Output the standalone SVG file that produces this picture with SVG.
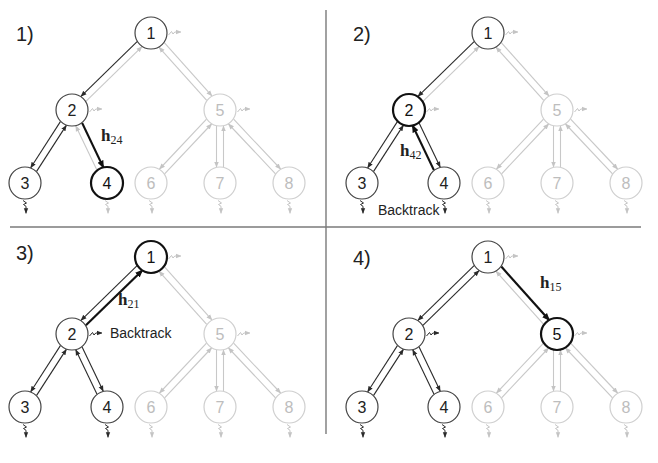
<svg xmlns="http://www.w3.org/2000/svg" width="658" height="463" viewBox="0 0 658 463">
<defs>
<marker id="md" viewBox="0 0 10 10" refX="9" refY="5" markerWidth="6" markerHeight="6" markerUnits="userSpaceOnUse" orient="auto"><path d="M0,1 L10,5 L0,9 z" fill="#2a2a2a"/></marker>
<marker id="mg" viewBox="0 0 10 10" refX="9" refY="5" markerWidth="6" markerHeight="6" markerUnits="userSpaceOnUse" orient="auto"><path d="M0,1 L10,5 L0,9 z" fill="#c4c4c4"/></marker>
<marker id="mb" viewBox="0 0 10 10" refX="8" refY="5" markerWidth="8" markerHeight="8" markerUnits="userSpaceOnUse" orient="auto"><path d="M0,1 L10,5 L0,9 z" fill="#111"/></marker>
<marker id="sd" viewBox="0 0 10 10" refX="9" refY="5" markerWidth="5.5" markerHeight="5.5" markerUnits="userSpaceOnUse" orient="auto"><path d="M0,1 L10,5 L0,9 z" fill="#2a2a2a"/></marker>
<marker id="sg" viewBox="0 0 10 10" refX="9" refY="5" markerWidth="5.5" markerHeight="5.5" markerUnits="userSpaceOnUse" orient="auto"><path d="M0,1 L10,5 L0,9 z" fill="#c4c4c4"/></marker>
</defs>
<style>
.d{fill:none;stroke:#2a2a2a;stroke-width:1.1;marker-end:url(#md)}
.g{fill:none;stroke:#c8c8c8;stroke-width:1.1;marker-end:url(#mg)}
.b{fill:none;stroke:#111;stroke-width:2.2;marker-end:url(#mb)}
.sqd{fill:none;stroke:#2a2a2a;stroke-width:1;marker-end:url(#sd)}
.sqg{fill:none;stroke:#c4c4c4;stroke-width:1;marker-end:url(#sg)}
.nd circle{fill:#fff;stroke:#444;stroke-width:1.2}
.nd text{fill:#222}
.nb circle{fill:#fff;stroke:#111;stroke-width:2.2}
.nb text{fill:#111}
.ng circle{fill:#fff;stroke:#cfcfcf;stroke-width:1.2}
.ng text{fill:#bdbdbd}
text{font-family:"Liberation Sans",Arial,sans-serif}
.num{font-size:16px;text-anchor:middle}
.lbl{font-size:20px;fill:#222}
.bt{font-size:14px;fill:#222}
.h{font-family:"Liberation Serif","Times New Roman",serif;font-size:17px;font-weight:bold;fill:#222}
.sub{font-family:"Liberation Serif","Times New Roman",serif;font-size:12px;font-weight:normal}
.div{stroke:#7a7a7a;stroke-width:1.4}
</style>
<rect width="658" height="463" fill="#fff"/>
<g id="dividers">
<line class="div" x1="326" y1="10" x2="326" y2="434"/>
<line class="div" x1="10" y1="227" x2="641" y2="227"/>
</g>
<g id="labels">
<text class="lbl" x="16" y="41">1)</text>
<text class="lbl" x="353" y="41">2)</text>
<text class="lbl" x="16" y="260">3)</text>
<text class="lbl" x="353" y="265">4)</text>
</g>

<!-- Panel 1 -->
<g id="panel1">
<g id="p1-connectors">
<path class="d" d="M137.1,41.7 L81,96.3"/>
<path class="g" d="M85.9,101.3 L142,46.7"/>
<path class="g" d="M164.3,42.6 L211.9,95.8"/>
<path class="g" d="M206.7,100.4 L159.1,47.3"/>
<path class="d" d="M60.4,121.6 L30.7,167.7"/>
<path class="d" d="M36.6,171.4 L66.3,125.4"/>
<path class="b" d="M82.1,122.9 L103.2,167.1"/>
<path class="g" d="M96.9,170.1 L75.8,125.9"/>
<path class="g" d="M206.5,119.2 L159.5,169"/>
<path class="g" d="M164.6,173.8 L211.6,124"/>
<path class="g" d="M216.5,126 L216.5,167"/>
<path class="g" d="M223.5,167 L223.5,126"/>
<path class="g" d="M233.6,119.2 L280.6,169"/>
<path class="g" d="M275.5,173.8 L228.5,124"/>
<path class="sqg" d="M168.5,35 l3,-3.5 l1.5,2.5 l1.8,-2 h6"/>
<path class="sqg" d="M89.5,112 l3,-3.5 l1.5,2.5 l1.8,-2 h6"/>
<path class="sqg" d="M237.5,112 l3,-3.5 l1.5,2.5 l1.8,-2 h6"/>
<path class="sqd" d="M23,200.5 l3.5,2.5 l-3,1.5 l2.5,1.8 v7"/>
<path class="sqg" d="M105,200.5 l3.5,2.5 l-3,1.5 l2.5,1.8 v7"/>
<path class="sqg" d="M149,200.5 l3.5,2.5 l-3,1.5 l2.5,1.8 v7"/>
<path class="sqg" d="M218,200.5 l3.5,2.5 l-3,1.5 l2.5,1.8 v7"/>
<path class="sqg" d="M287,200.5 l3.5,2.5 l-3,1.5 l2.5,1.8 v7"/>
</g>
<g id="p1-n1" class="nd"><circle cx="151" cy="33" r="16"/><text class="num" x="151" y="38.8">1</text></g>
<g id="p1-n2" class="nd"><circle cx="72" cy="110" r="16"/><text class="num" x="72" y="115.8">2</text></g>
<g id="p1-n3" class="nd"><circle cx="25" cy="183" r="16"/><text class="num" x="25" y="188.8">3</text></g>
<g id="p1-n4" class="nb"><circle cx="107" cy="183" r="16"/><text class="num" x="107" y="188.8">4</text></g>
<g id="p1-n5" class="ng"><circle cx="220" cy="110" r="16"/><text class="num" x="220" y="115.8">5</text></g>
<g id="p1-n6" class="ng"><circle cx="151" cy="183" r="16"/><text class="num" x="151" y="188.8">6</text></g>
<g id="p1-n7" class="ng"><circle cx="220" cy="183" r="16"/><text class="num" x="220" y="188.8">7</text></g>
<g id="p1-n8" class="ng"><circle cx="289" cy="183" r="16"/><text class="num" x="289" y="188.8">8</text></g>
<text class="h" x="101" y="141">h<tspan class="sub" dy="3">24</tspan></text>
</g>

<!-- Panel 2 -->
<g id="panel2" transform="translate(337,0)">
<g id="p2-connectors">
<path class="d" d="M137.1,41.7 L81,96.3"/>
<path class="g" d="M85.9,101.3 L142,46.7"/>
<path class="g" d="M164.3,42.6 L211.9,95.8"/>
<path class="g" d="M206.7,100.4 L159.1,47.3"/>
<path class="d" d="M60.4,121.6 L30.7,167.7"/>
<path class="d" d="M36.6,171.4 L66.3,125.4"/>
<path class="d" d="M82.1,122.9 L103.2,167.1"/>
<path class="b" d="M96.9,170.1 L75.8,125.9"/>
<path class="g" d="M206.5,119.2 L159.5,169"/>
<path class="g" d="M164.6,173.8 L211.6,124"/>
<path class="g" d="M216.5,126 L216.5,167"/>
<path class="g" d="M223.5,167 L223.5,126"/>
<path class="g" d="M233.6,119.2 L280.6,169"/>
<path class="g" d="M275.5,173.8 L228.5,124"/>
<path class="sqg" d="M168.5,35 l3,-3.5 l1.5,2.5 l1.8,-2 h6"/>
<path class="sqg" d="M89.5,112 l3,-3.5 l1.5,2.5 l1.8,-2 h6"/>
<path class="sqg" d="M237.5,112 l3,-3.5 l1.5,2.5 l1.8,-2 h6"/>
<path class="sqd" d="M23,200.5 l3.5,2.5 l-3,1.5 l2.5,1.8 v7"/>
<path class="sqd" d="M105,200.5 l3.5,2.5 l-3,1.5 l2.5,1.8 v7"/>
<path class="sqg" d="M149,200.5 l3.5,2.5 l-3,1.5 l2.5,1.8 v7"/>
<path class="sqg" d="M218,200.5 l3.5,2.5 l-3,1.5 l2.5,1.8 v7"/>
<path class="sqg" d="M287,200.5 l3.5,2.5 l-3,1.5 l2.5,1.8 v7"/>
</g>
<g id="p2-n1" class="nd"><circle cx="151" cy="33" r="16"/><text class="num" x="151" y="38.8">1</text></g>
<g id="p2-n2" class="nb"><circle cx="72" cy="110" r="16"/><text class="num" x="72" y="115.8">2</text></g>
<g id="p2-n3" class="nd"><circle cx="25" cy="183" r="16"/><text class="num" x="25" y="188.8">3</text></g>
<g id="p2-n4" class="nd"><circle cx="107" cy="183" r="16"/><text class="num" x="107" y="188.8">4</text></g>
<g id="p2-n5" class="ng"><circle cx="220" cy="110" r="16"/><text class="num" x="220" y="115.8">5</text></g>
<g id="p2-n6" class="ng"><circle cx="151" cy="183" r="16"/><text class="num" x="151" y="188.8">6</text></g>
<g id="p2-n7" class="ng"><circle cx="220" cy="183" r="16"/><text class="num" x="220" y="188.8">7</text></g>
<g id="p2-n8" class="ng"><circle cx="289" cy="183" r="16"/><text class="num" x="289" y="188.8">8</text></g>
<text class="h" x="63" y="156">h<tspan class="sub" dy="3">42</tspan></text>
<text class="bt" x="41" y="215">Backtrack</text>
</g>

<!-- Panel 3 -->
<g id="panel3" transform="translate(0,224)">
<g id="p3-connectors">
<path class="d" d="M137.1,41.7 L81,96.3"/>
<path class="b" d="M85.9,101.3 L142,46.7"/>
<path class="g" d="M164.3,42.6 L211.9,95.8"/>
<path class="g" d="M206.7,100.4 L159.1,47.3"/>
<path class="d" d="M60.4,121.6 L30.7,167.7"/>
<path class="d" d="M36.6,171.4 L66.3,125.4"/>
<path class="d" d="M82.1,122.9 L103.2,167.1"/>
<path class="d" d="M96.9,170.1 L75.8,125.9"/>
<path class="g" d="M206.5,119.2 L159.5,169"/>
<path class="g" d="M164.6,173.8 L211.6,124"/>
<path class="g" d="M216.5,126 L216.5,167"/>
<path class="g" d="M223.5,167 L223.5,126"/>
<path class="g" d="M233.6,119.2 L280.6,169"/>
<path class="g" d="M275.5,173.8 L228.5,124"/>
<path class="sqg" d="M168.5,35 l3,-3.5 l1.5,2.5 l1.8,-2 h6"/>
<path class="sqd" d="M89.5,112 l3,-3.5 l1.5,2.5 l1.8,-2 h6"/>
<path class="sqg" d="M237.5,112 l3,-3.5 l1.5,2.5 l1.8,-2 h6"/>
<path class="sqd" d="M23,200.5 l3.5,2.5 l-3,1.5 l2.5,1.8 v7"/>
<path class="sqd" d="M105,200.5 l3.5,2.5 l-3,1.5 l2.5,1.8 v7"/>
<path class="sqg" d="M149,200.5 l3.5,2.5 l-3,1.5 l2.5,1.8 v7"/>
<path class="sqg" d="M218,200.5 l3.5,2.5 l-3,1.5 l2.5,1.8 v7"/>
<path class="sqg" d="M287,200.5 l3.5,2.5 l-3,1.5 l2.5,1.8 v7"/>
</g>
<g id="p3-n1" class="nb"><circle cx="151" cy="33" r="16"/><text class="num" x="151" y="38.8">1</text></g>
<g id="p3-n2" class="nd"><circle cx="72" cy="110" r="16"/><text class="num" x="72" y="115.8">2</text></g>
<g id="p3-n3" class="nd"><circle cx="25" cy="183" r="16"/><text class="num" x="25" y="188.8">3</text></g>
<g id="p3-n4" class="nd"><circle cx="107" cy="183" r="16"/><text class="num" x="107" y="188.8">4</text></g>
<g id="p3-n5" class="ng"><circle cx="220" cy="110" r="16"/><text class="num" x="220" y="115.8">5</text></g>
<g id="p3-n6" class="ng"><circle cx="151" cy="183" r="16"/><text class="num" x="151" y="188.8">6</text></g>
<g id="p3-n7" class="ng"><circle cx="220" cy="183" r="16"/><text class="num" x="220" y="188.8">7</text></g>
<g id="p3-n8" class="ng"><circle cx="289" cy="183" r="16"/><text class="num" x="289" y="188.8">8</text></g>
<text class="h" x="118" y="81">h<tspan class="sub" dy="3">21</tspan></text>
<text class="bt" x="110" y="114">Backtrack</text>
</g>

<!-- Panel 4 -->
<g id="panel4" transform="translate(337,224)">
<g id="p4-connectors">
<path class="d" d="M137.1,41.7 L81,96.3"/>
<path class="d" d="M85.9,101.3 L142,46.7"/>
<path class="b" d="M164.3,42.6 L211.9,95.8"/>
<path class="g" d="M206.7,100.4 L159.1,47.3"/>
<path class="d" d="M60.4,121.6 L30.7,167.7"/>
<path class="d" d="M36.6,171.4 L66.3,125.4"/>
<path class="d" d="M82.1,122.9 L103.2,167.1"/>
<path class="d" d="M96.9,170.1 L75.8,125.9"/>
<path class="g" d="M206.5,119.2 L159.5,169"/>
<path class="g" d="M164.6,173.8 L211.6,124"/>
<path class="g" d="M216.5,126 L216.5,167"/>
<path class="g" d="M223.5,167 L223.5,126"/>
<path class="g" d="M233.6,119.2 L280.6,169"/>
<path class="g" d="M275.5,173.8 L228.5,124"/>
<path class="sqg" d="M168.5,35 l3,-3.5 l1.5,2.5 l1.8,-2 h6"/>
<path class="sqd" d="M89.5,112 l3,-3.5 l1.5,2.5 l1.8,-2 h6"/>
<path class="sqg" d="M237.5,112 l3,-3.5 l1.5,2.5 l1.8,-2 h6"/>
<path class="sqd" d="M23,200.5 l3.5,2.5 l-3,1.5 l2.5,1.8 v7"/>
<path class="sqd" d="M105,200.5 l3.5,2.5 l-3,1.5 l2.5,1.8 v7"/>
<path class="sqg" d="M149,200.5 l3.5,2.5 l-3,1.5 l2.5,1.8 v7"/>
<path class="sqg" d="M218,200.5 l3.5,2.5 l-3,1.5 l2.5,1.8 v7"/>
<path class="sqg" d="M287,200.5 l3.5,2.5 l-3,1.5 l2.5,1.8 v7"/>
</g>
<g id="p4-n1" class="nd"><circle cx="151" cy="33" r="16"/><text class="num" x="151" y="38.8">1</text></g>
<g id="p4-n2" class="nd"><circle cx="72" cy="110" r="16"/><text class="num" x="72" y="115.8">2</text></g>
<g id="p4-n3" class="nd"><circle cx="25" cy="183" r="16"/><text class="num" x="25" y="188.8">3</text></g>
<g id="p4-n4" class="nd"><circle cx="107" cy="183" r="16"/><text class="num" x="107" y="188.8">4</text></g>
<g id="p4-n5" class="nb"><circle cx="220" cy="110" r="16"/><text class="num" x="220" y="115.8">5</text></g>
<g id="p4-n6" class="ng"><circle cx="151" cy="183" r="16"/><text class="num" x="151" y="188.8">6</text></g>
<g id="p4-n7" class="ng"><circle cx="220" cy="183" r="16"/><text class="num" x="220" y="188.8">7</text></g>
<g id="p4-n8" class="ng"><circle cx="289" cy="183" r="16"/><text class="num" x="289" y="188.8">8</text></g>
<text class="h" x="203" y="64">h<tspan class="sub" dy="3">15</tspan></text>
</g>
</svg>
